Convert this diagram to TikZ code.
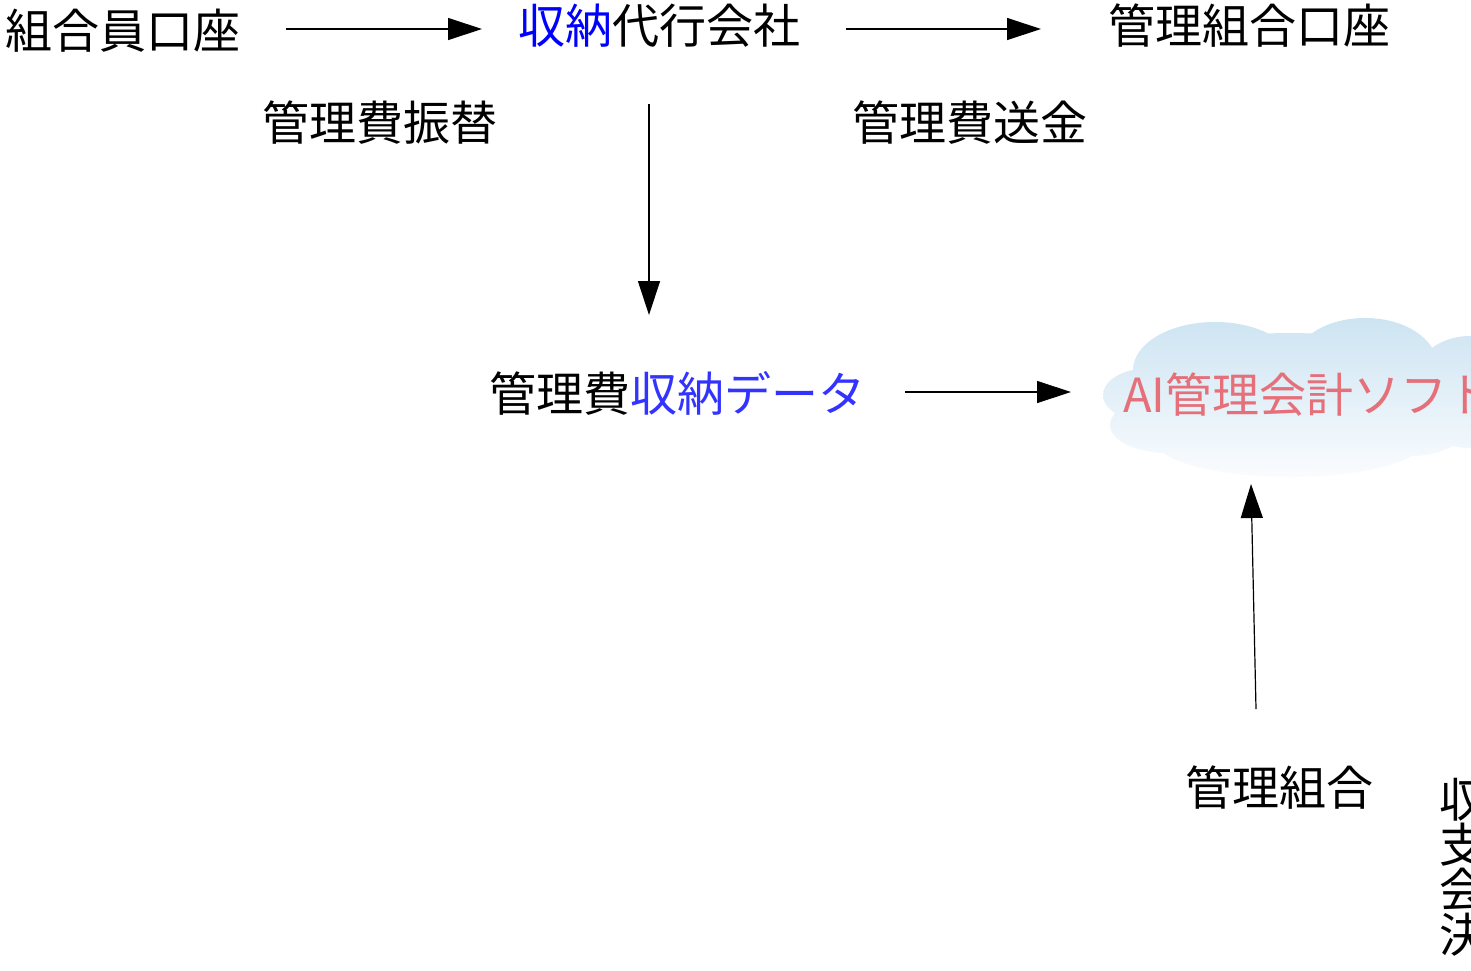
\documentclass[tikz,border=0pt]{standalone}
\usepackage{fontspec}
\setmainfont{Noto Sans CJK JP}
\usetikzlibrary{arrows.meta}
\definecolor{topblue}{RGB}{0,0,255}
\definecolor{datablue}{RGB}{51,51,255}
\definecolor{cloudtop}{RGB}{205,228,242}
\definecolor{cloudbot}{RGB}{250,252,254}
\definecolor{aired}{RGB}{229,112,122}
\tikzset{
  lbl/.style={inner sep=0pt, anchor=west, font=\fontsize{47}{56}\selectfont},
  vch/.style={inner sep=0pt, anchor=center, font=\fontsize{47}{56}\selectfont},
  arr/.style={-{Triangle[length=34pt,width=22pt]}, line width=1.2pt}
}
\begin{document}
\begin{tikzpicture}[x=1pt,y=-1pt]
\useasboundingbox (0,0) rectangle (1471,970);
\clip (0,0) rectangle (1471,970);
\fill[white] (0,0) rectangle (1471,970);
% cloud
\shade[top color=cloudtop, bottom color=cloudbot]
  (1215,370) ellipse [x radius=82, y radius=48]
  (1365,365) ellipse [x radius=72, y radius=47]
  (1470,392) ellipse [x radius=62, y radius=56]
  (1150,395) ellipse [x radius=47, y radius=27]
  (1168,425) ellipse [x radius=58, y radius=28]
  (1290,440) ellipse [x radius=135, y radius=37]
  (1410,420) ellipse [x radius=62, y radius=36]
  (1290,395) ellipse [x radius=170, y radius=62];
% labels
\node[lbl] (kumiai) at (5,31) {組合員口座};
\node[lbl] (shuno) at (518,26) {\textcolor{topblue}{収納}代行会社};
\node[lbl] (kanrikoza) at (1108,26) {管理組合口座};
\node[lbl] (furikae) at (262,123) {管理費振替};
\node[lbl] (sokin) at (852,123) {管理費送金};
\node[lbl] (data) at (489,393) {管理費\textcolor{datablue}{収納データ}};
\node[lbl, text=aired] (ai) at (1123,395) {AI管理会計ソフト};
\node[lbl] (kanri) at (1185,788) {管理組合};
\node[vch] (v1) at (1463,800) {収};
\node[vch] (v2) at (1463,845) {支};
\node[vch] (v3) at (1463,890) {会};
\node[vch] (v4) at (1463,935) {決};
% arrow endpoints
\coordinate (a1s) at (286,29);
\coordinate (a1e) at (482,29);
\coordinate (a2s) at (846,29);
\coordinate (a2e) at (1041,29);
\coordinate (a3s) at (649,104);
\coordinate (a3e) at (649,315);
\coordinate (a4s) at (905,392);
\coordinate (a4e) at (1071,392);
\coordinate (a5s) at (1256,709);
\coordinate (a5e) at (1251,484);
\draw[arr] (a1s) -- (a1e);
\draw[arr] (a2s) -- (a2e);
\draw[arr] (a3s) -- (a3e);
\draw[arr] (a4s) -- (a4e);
\draw[arr] (a5s) -- (a5e);
\end{tikzpicture}
\end{document}
